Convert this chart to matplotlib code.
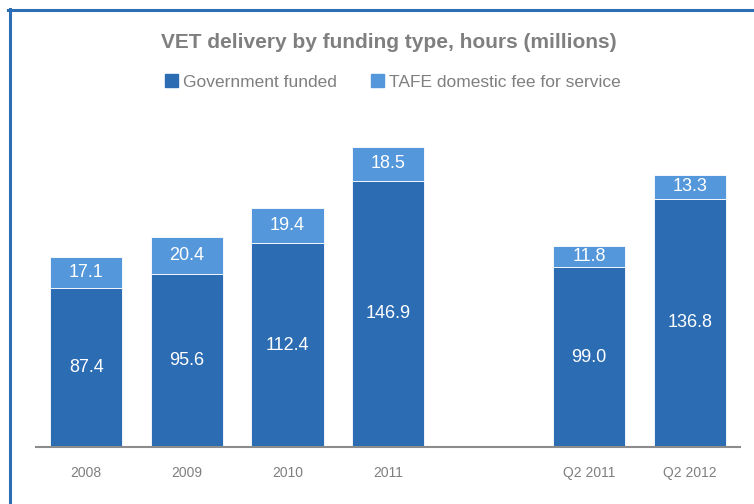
import numpy as np
import matplotlib
matplotlib.use("Agg")
import matplotlib.pyplot as plt
from matplotlib.patches import Patch
from matplotlib.lines import Line2D

periods = ["2008", "2009", "2010", "2011", "Q2 2011", "Q2 2012"]
govt = [87.4, 95.6, 112.4, 146.9, 99.0, 136.8]
tafe = [17.1, 20.4, 19.4, 18.5, 11.8, 13.3]

C_GOVT = "#2B6CB3"
C_TAFE = "#5497DA"
GREY = "#7F7F7F"

plt.rcParams["font.family"] = ["Liberation Sans", "DejaVu Sans"]

fig = plt.figure(figsize=(7.54, 5.04), dpi=100)
ax = fig.add_axes([36 / 754, 57 / 504, 704 / 754, 347 / 504])

# annual figures, one empty slot, then the quarterly comparison
x = np.array([0, 1, 2, 3, 5, 6])
w = 0.72
ax.bar(x, govt, w, color=C_GOVT, edgecolor="white", linewidth=0.6)
ax.bar(x, tafe, w, bottom=govt, color=C_TAFE, edgecolor="white", linewidth=0.6)

for xi, g, t in zip(x, govt, tafe):
    ax.text(xi, g / 2, f"{g:.1f}", ha="center", va="center", color="white", fontsize=13)
    ax.text(xi, g + t / 2, f"{t:.1f}", ha="center", va="center", color="white", fontsize=13)

ax.set_xlim(-0.5, 6.5)
ax.set_ylim(0, 191.3)
ax.set_xticks(x)
ax.set_xticklabels(periods, color=GREY, fontsize=10)
ax.tick_params(axis="x", length=0, pad=14)
ax.set_yticks([])
for s in ("top", "right", "left"):
    ax.spines[s].set_visible(False)
ax.spines["bottom"].set_color("#8C8C8C")
ax.spines["bottom"].set_linewidth(1.5)

fig.text(389 / 754, 1 - 42 / 504, "VET delivery by funding type, hours (millions)",
         ha="center", va="center", fontsize=15, fontweight="bold", color=GREY)

handles = [Patch(color=C_GOVT, label="Government funded"),
           Patch(color=C_TAFE, label="TAFE domestic fee for service")]
fig.legend(handles=handles, loc="center", bbox_to_anchor=(393 / 754, 1 - 82 / 504),
           ncol=2, frameon=False, fontsize=12.5, handlelength=0.7, handleheight=0.7,
           handletextpad=0.3, columnspacing=2.0, labelcolor=GREY)

# chart frame (top and left edges visible)
fig.add_artist(Line2D([8 / 754, 1.0], [1 - 10 / 504, 1 - 10 / 504], color="#2D6DB5",
                      linewidth=2.2, transform=fig.transFigure))
fig.add_artist(Line2D([10 / 754, 10 / 754], [0, 1 - 9 / 504], color="#2D6DB5",
                      linewidth=2.2, transform=fig.transFigure))

fig.savefig("out.png", dpi=100)
